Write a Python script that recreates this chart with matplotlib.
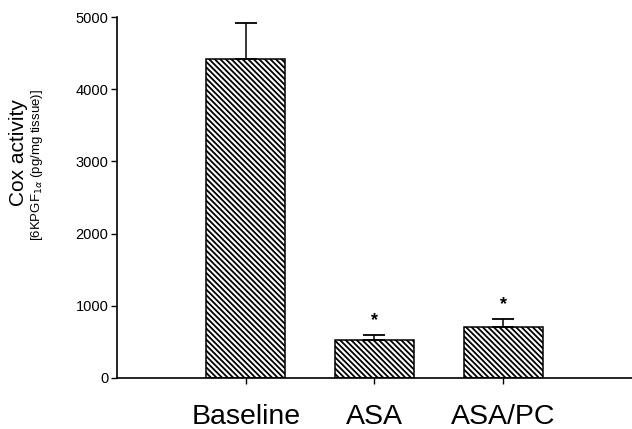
import matplotlib
matplotlib.use("Agg")
from matplotlib import pyplot as plt

plt.rcParams['font.family'] = ['Liberation Sans', 'DejaVu Sans']
plt.rcParams['hatch.linewidth'] = 1.3

groups = ['Baseline', 'ASA', 'ASA/PC']
cox = [4420, 530, 710]
sem = [500, 70, 110]
marked = [False, True, True]

fig = plt.figure(figsize=(6.32, 4.29), dpi=100)
ax = fig.add_axes([0.185, 0.119, 0.815, 0.841])

pos = [1, 2, 3]
ax.bar(pos, cox, width=0.61, color='white', edgecolor='black', linewidth=1.1, hatch='\\' * 6)
ax.errorbar(pos, cox, yerr=[[0, 0, 0], sem], fmt='none', ecolor='black', elinewidth=1.1, capsize=8, capthick=1.3)

for p, v, e, m in zip(pos, cox, sem, marked):
    if m:
        ax.text(p, v + e + 190, '*', ha='center', va='center', fontsize=13, fontweight='bold')

ax.set_xlim(0, 4)
ax.set_ylim(0, 5000)
ax.set_yticks([0, 1000, 2000, 3000, 4000, 5000])
ax.set_xticks(pos)
ax.set_xticklabels(groups, fontsize=20.5)
ax.tick_params(axis='y', labelsize=10.5, length=4, width=1, pad=2)
ax.tick_params(axis='x', length=4, width=1, pad=15)
for s in ['top', 'right']:
    ax.spines[s].set_visible(False)
ax.spines['left'].set_linewidth(1.2)
ax.spines['bottom'].set_linewidth(1.2)

fig.text(0.029, 0.645, 'Cox activity', rotation=90, fontsize=15, ha='center', va='center')
fig.text(0.059, 0.615, r'[6KPGF$_{1\alpha}$ (pg/mg tissue)]', rotation=90, fontsize=9.5, ha='center', va='center')

fig.savefig('out.png', dpi=100)
